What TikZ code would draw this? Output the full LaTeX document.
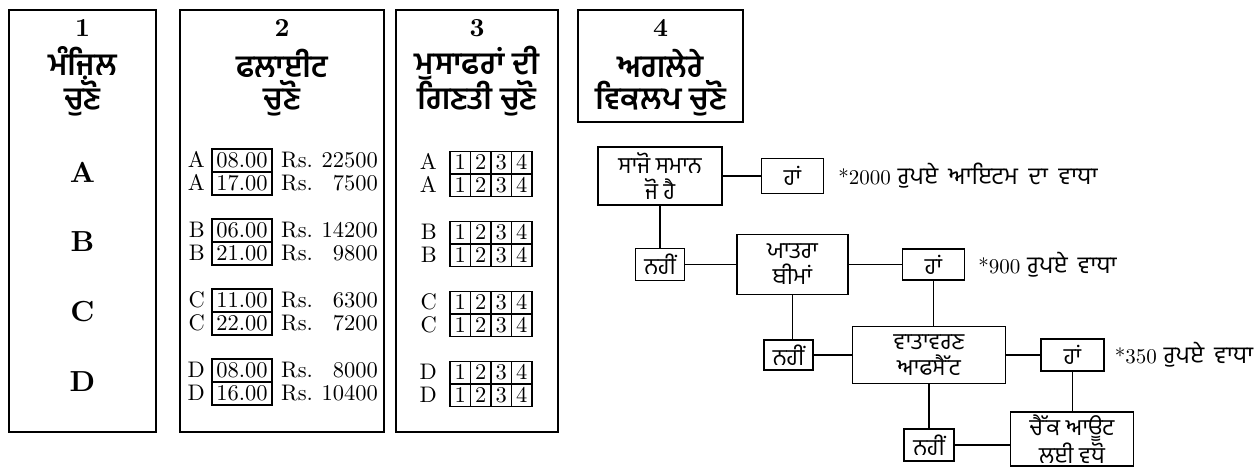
\documentclass[tikz,border=0pt]{standalone}
\usepackage{fontspec}
\setmainfont{lmroman10-regular}[Extension=.otf,BoldFont=lmroman10-bold]
\newfontfamily\pa[Script=Gurmukhi]{Hind Jalandhar}
\usetikzlibrary{positioning}
\tikzset{
    panel/.style={rectangle,draw=black,line width=2pt,inner sep=0pt},
    head/.style={font=\bfseries\fontsize{26}{28}\selectfont,inner sep=0pt},
    phead/.style={font=\pa\bfseries\fontsize{31}{34}\selectfont,inner sep=0pt},
    dest/.style={font=\bfseries\fontsize{29}{32}\selectfont,inner sep=0pt},
    row/.style={font=\fontsize{22.5}{24}\selectfont,inner sep=0pt,text height=14.5pt,text depth=0pt},
    tbox/.style={row,draw=black,line width=1.5pt,minimum width=60pt,minimum height=23pt},
    cell/.style={row,draw=black,line width=1.5pt,minimum width=20.5pt,minimum height=22pt},
    choice/.style={rectangle,draw=black,line width=1.5pt,inner sep=0pt,align=center,font=\pa\fontsize{23}{26}\selectfont},
    note/.style={anchor=west,inner sep=0pt,font=\fontsize{21}{22}\selectfont},
    link/.style={line width=1.5pt},
}
\newcommand{\pnote}[1]{{\pa\fontsize{24}{26}\selectfont\spaceskip=0.45em #1}}

\begin{document}
\begin{tikzpicture}[x=1pt,y=-1pt]
\useasboundingbox (0,0) rectangle (1260,471);
% the four panels
\node[panel,minimum width=147pt,minimum height=422pt] (P1) at (82.5,221) {};
\node[panel,minimum width=204pt,minimum height=422pt] (P2) at (282,221) {};
\node[panel,minimum width=162pt,minimum height=422pt] (P3) at (477,221) {};
\node[panel,minimum width=165pt,minimum height=112pt] (P4) at (660.5,66) {};
\node[head] (h1) at (82.5,28) {1};
\node[phead] (h1a) at (82.5,63) {ਮੰਜ਼ਿਲ};
\node[phead] (h1b) at (82.5,98) {ਚੁਣੋ};
\node[head] (h2) at (282,28) {2};
\node[phead] (h2a) at (282,63) {ਫਲਾਈਟ};
\node[phead] (h2b) at (282,98) {ਚੁਣੋ};
\node[head] (h3) at (477,28) {3};
\node[phead] (h3a) at (477,63) {ਮੁਸਾਫਰਾਂ ਦੀ};
\node[phead] (h3b) at (477,98) {ਗਿਣਤੀ ਚੁਣੋ};
\node[head] (h4) at (660.5,28) {4};
\node[phead] (h4a) at (660.5,63) {ਅਗਲੇਰੇ};
\node[phead] (h4b) at (660.5,98) {ਵਿਕਲਪ ਚੁਣੋ};
\foreach \l [count=\i from 0] in {A,B,C,D}
    \node[dest] (D\l) at (82.5,172+70*\i) {\l};
% flights and passengers
\foreach \l/\t/\p [count=\i from 0] in {A/08.00/22500,A/17.00/7500,B/06.00/14200,B/21.00/9800,C/11.00/6300,C/22.00/7200,D/08.00/8000,D/16.00/10400}{
    \pgfmathsetmacro\ry{160.5+70*floor(\i/2)+23*mod(\i,2)}
    \node[row,anchor=east] (fl\i) at (205,\ry) {\l};
    \node[tbox] (ft\i) at (242,\ry) {\t};
    \node[row,anchor=west] (fr\i) at (281,\ry) {Rs.};
    \node[row,anchor=east] (fp\i) at (378,\ry) {\p};
    \node[row,anchor=east] (gl\i) at (437,\ry+2) {\l};
    \foreach \c in {1,...,4}
        \node[cell] (g\i\c) at (450+20.5*\c-10.25,\ry+2) {\c};
}
% further options
\node[choice,minimum width=124pt,minimum height=58pt] (kit) at (660,176) {ਸਾਜੋ ਸਮਾਨ\\ਜੋ ਹੈ};
\node[choice,minimum width=62pt,minimum height=35pt] (yes1) [right=38pt of kit] {ਹਾਂ};
\node[note] (c1) [right=14pt of yes1] {*2000 \pnote{ਰੁਪਏ ਆਇਟਮ ਦਾ ਵਾਧਾ}};
\node[choice,minimum width=49pt,minimum height=32pt] (no1) [below=42pt of kit] {ਨਹੀਂ};
\node[choice,minimum width=111pt,minimum height=60pt] (ins) [right=51pt of no1] {ਯਾਤਰਾ\\ਬੀਮਾਂ};
\node[choice,minimum width=62pt,minimum height=31pt] (yes2) [right=53pt of ins] {ਹਾਂ};
\node[note] (c2) [right=13pt of yes2] {*900 \pnote{ਰੁਪਏ ਵਾਧਾ}};
\node[choice,minimum width=49pt,minimum height=30pt] (no2) [below=44pt of ins,xshift=-4pt] {ਨਹੀਂ};
\node[choice,minimum width=153pt,minimum height=57pt] (env) [right=38pt of no2] {ਵਾਤਾਵਰਣ\\ਆਫਸੈੱਟ};
\node[choice,minimum width=63pt,minimum height=32pt] (yes3) [right=34pt of env] {ਹਾਂ};
\node[note] (c3) [right=10pt of yes3] {*350 \pnote{ਰੁਪਏ ਵਾਧਾ}};
\node[choice,minimum width=50pt,minimum height=32pt] (no3) [below=44pt of env] {ਨਹੀਂ};
\node[choice,minimum width=123pt,minimum height=54pt,font=\pa\fontsize{23}{23}\selectfont] (out) [right=55pt of no3,yshift=6pt] {ਚੈੱਕ ਆਊਟ\\ਲਈ ਵਧੋ};
\draw[link] (kit) -- (yes1);
\draw[link] (kit) -- (no1);
\draw[link] (no1) -- (ins);
\draw[link] (ins) -- (yes2);
\draw[link] (ins.south) -- (ins.south |- no2.north);
\draw[link] (yes2) -- (yes2 |- env.north);
\draw[link] (no2) -- (no2 -| env.west);
\draw[link] (env) -- (yes3);
\draw[link] (env) -- (no3);
\draw[link] (yes3) -- (yes3 |- out.north);
\draw[link] (no3) -- (no3 -| out.west);
\end{tikzpicture}
\end{document}
